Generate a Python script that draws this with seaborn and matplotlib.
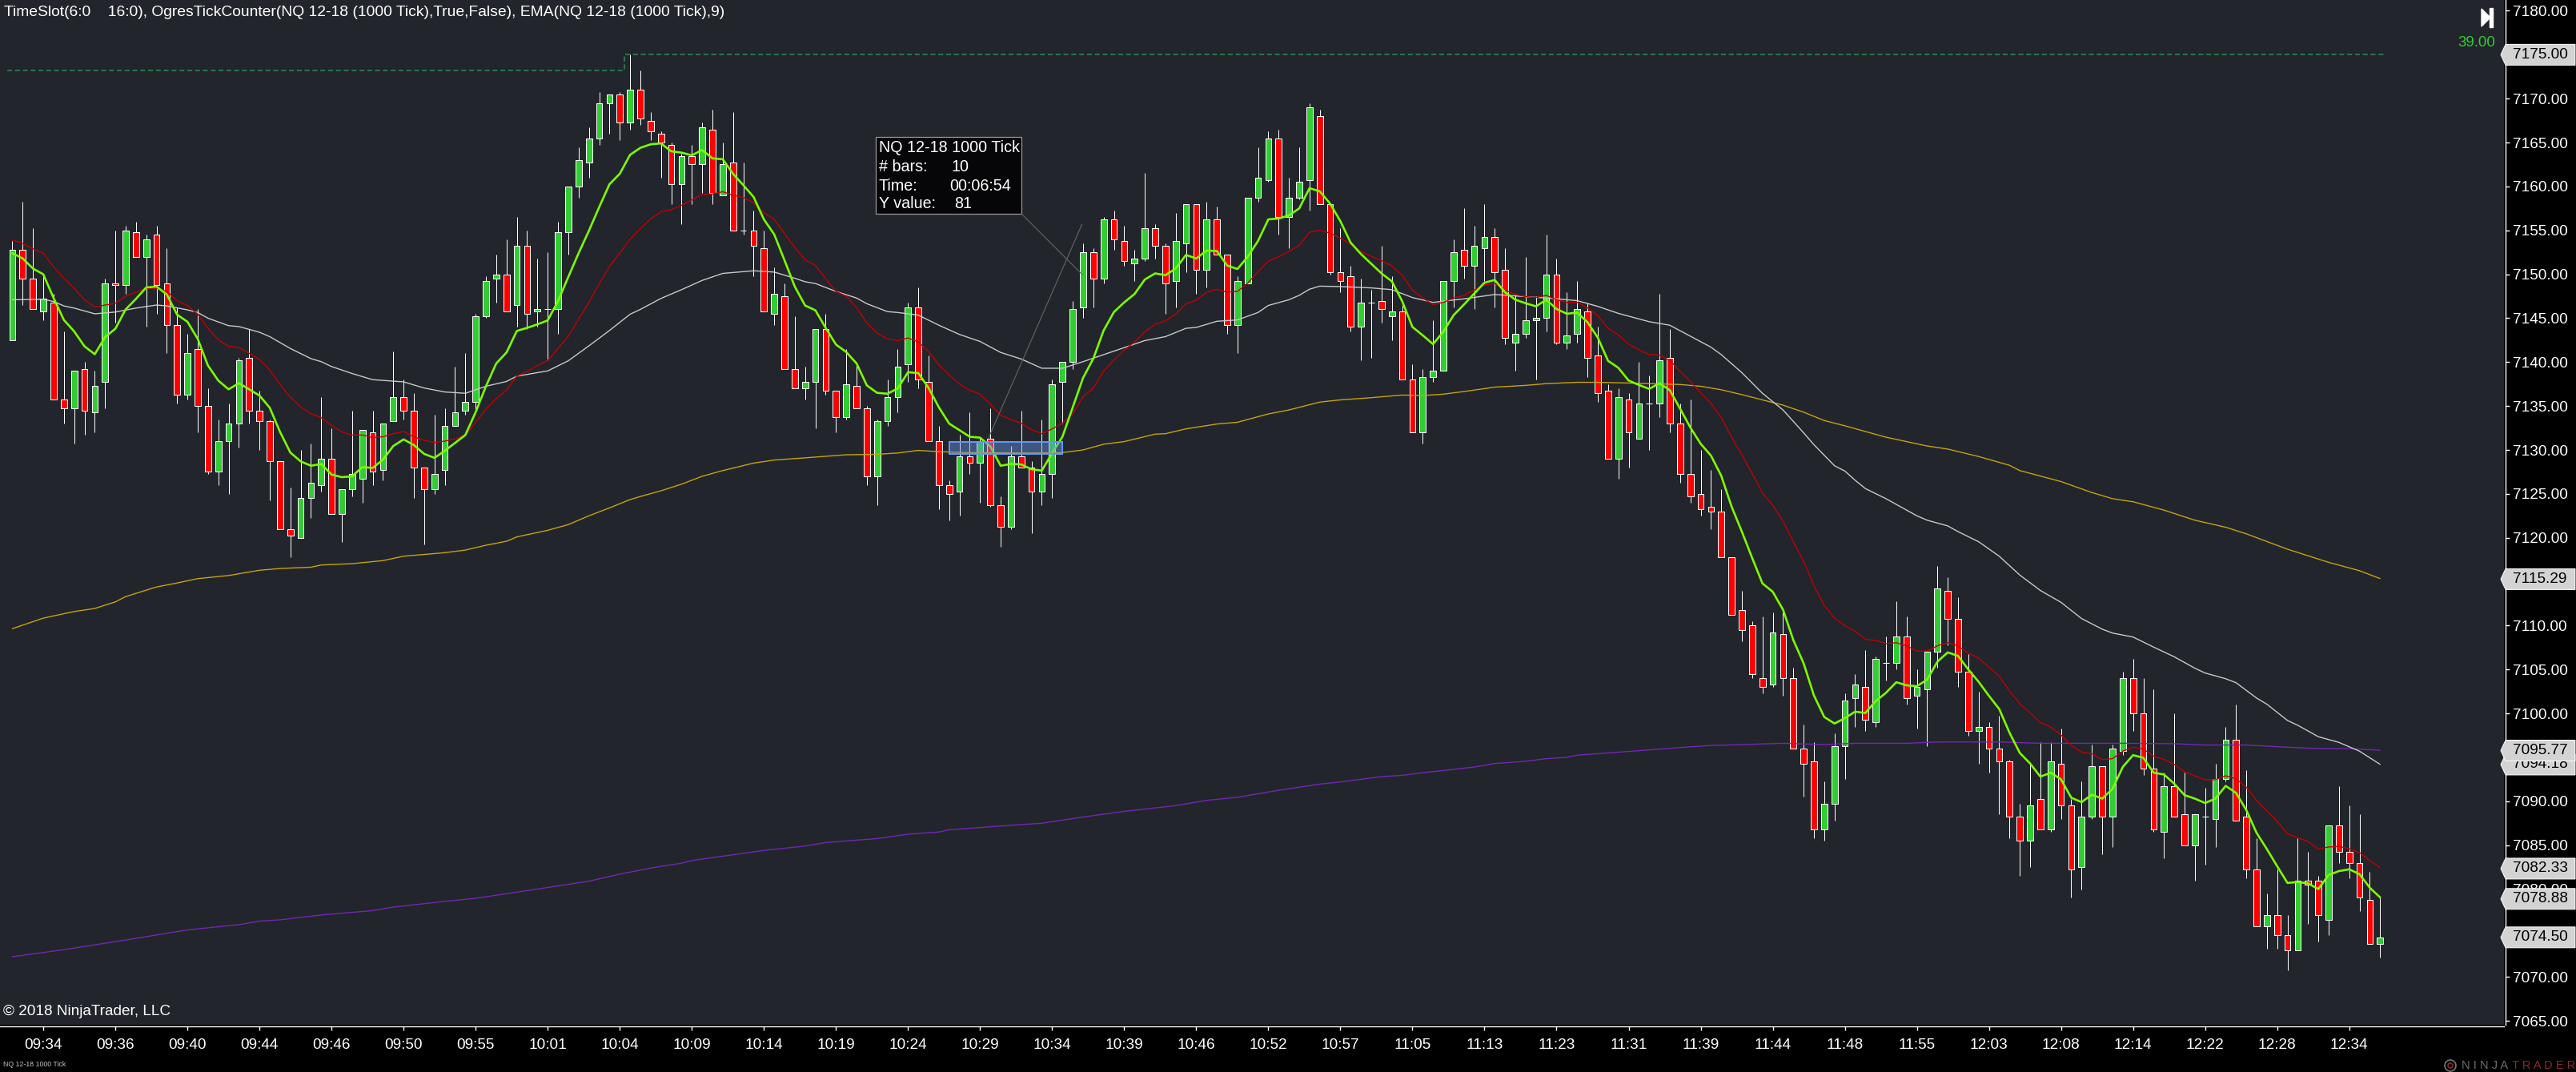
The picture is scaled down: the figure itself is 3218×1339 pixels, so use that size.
import numpy as np
import pandas as pd
import matplotlib
matplotlib.use("Agg")
import matplotlib.pyplot as plt
import matplotlib.patches as mpatches
import matplotlib.transforms as mtrans
import seaborn as sns

# candles, one entry per 1000 tick bar
bar_open = [
    7142.5, 7152.75, 7149.5, 7145.75, 7146.75, 7135.75, 7134.75, 7139.25, 7134.25, 7137.75,
    7149, 7148.75, 7154.75, 7152, 7154.5, 7149, 7144.25, 7136.25, 7141.5, 7135,
    7127.5, 7131, 7133, 7140.5, 7134.5, 7133.25, 7128.75, 7121, 7120, 7124.5,
    7126, 7129, 7122.75, 7125.5, 7126.75, 7132, 7127.75, 7133.25, 7136, 7134.5,
    7128, 7125.5, 7127.75, 7132.75, 7134.5, 7135.5, 7145.25, 7149.5, 7150, 7146.5,
    7153.25, 7145.75, 7146, 7146, 7154.75, 7160, 7162.75, 7165.5, 7169.5, 7170.5,
    7167.25, 7171, 7167.5, 7166, 7164.75, 7160.25, 7163.5, 7162.5, 7166.5, 7159,
    7162.75, 7155, 7155, 7153, 7145.5, 7147.5, 7139.25, 7137, 7137.75, 7143.75,
    7136.75, 7133.75, 7137.25, 7134.75, 7127, 7133.25, 7136, 7139.75, 7146.25, 7137.75,
    7131, 7126, 7125.25, 7129.25, 7128.5, 7131.25, 7123.75, 7121.25, 7129.25, 7128,
    7125.25, 7127.25, 7137.75, 7140, 7146.25, 7152.5, 7149.5, 7156.25, 7153.75, 7151.25,
    7151.75, 7155.25, 7153.25, 7149.25, 7153.5, 7158, 7150.5, 7156.25, 7152.25, 7144.25,
    7149, 7158.75, 7160.75, 7165.5, 7156.5, 7158.75, 7160.75, 7168, 7158, 7150.25,
    7149.75, 7144, 7146.75, 7147, 7145.25, 7145.75, 7138, 7132, 7138.25, 7139,
    7149.25, 7152.75, 7151, 7153, 7154.25, 7150.5, 7142.25, 7143.25, 7144.75, 7145,
    7150, 7142.25, 7143.25, 7145.75, 7140.75, 7136.75, 7129, 7135.75, 7131.25, 7135.25,
    7135.25, 7140.5, 7133, 7127.25, 7125, 7123.5, 7123, 7117.75, 7111.75, 7110,
    7104, 7103.25, 7109, 7104, 7096, 7094.5, 7086.75, 7089.75, 7096.25, 7101.75,
    7103, 7099, 7105.75, 7105.75, 7108.75, 7102, 7102.75, 7107, 7114, 7110.75,
    7104.75, 7098, 7098.5, 7096, 7094.5, 7088.25, 7085.5, 7090.25, 7086.75, 7094.25,
    7089.5, 7082.5, 7088.25, 7094, 7088.25, 7095.75, 7104, 7100, 7093.75, 7086.5,
    7091.75, 7088.5, 7085, 7088.25, 7088, 7092.5, 7097, 7088.25, 7082.25, 7075.75,
    7077, 7074.75, 7073, 7081, 7081, 7076.5, 7087.25, 7084.25, 7083, 7078.75,
    7073.75,
]
bar_high = [
    7153.75, 7158.25, 7155.25, 7150, 7147.75, 7143.5, 7139, 7140, 7139, 7149.5,
    7155, 7155.5, 7156, 7154.5, 7155.5, 7153, 7146.25, 7143.25, 7146, 7137,
    7133.5, 7135.25, 7140.5, 7143.75, 7136.75, 7133.5, 7128.75, 7125.75, 7130, 7130.75,
    7136, 7132.5, 7125.5, 7134.5, 7132.25, 7134.5, 7133, 7141.25, 7138, 7136.5,
    7128, 7134, 7134.75, 7139.5, 7141, 7145.5, 7149.75, 7152.25, 7154, 7156.5,
    7155, 7151.75, 7152.5, 7156, 7160, 7164.5, 7166.75, 7170.75, 7170.5, 7170.75,
    7175, 7173.25, 7168.5, 7166.25, 7165, 7163.75, 7164.75, 7167.25, 7168.75, 7165,
    7168.5, 7162.75, 7157.25, 7155, 7150.75, 7149, 7145.25, 7139.5, 7143.75, 7145.5,
    7136.75, 7141.5, 7139.75, 7135, 7133.5, 7138, 7141.5, 7146.75, 7148.5, 7140.75,
    7132.75, 7126.5, 7131.75, 7134.25, 7131.5, 7134.75, 7124.75, 7130.5, 7134.5, 7128.75,
    7133.5, 7138, 7140, 7147, 7153.5, 7153, 7156.5, 7157.25, 7155.5, 7152.75,
    7161.5, 7155.75, 7153.5, 7157, 7158, 7158, 7158.25, 7157.75, 7152.25, 7149.75,
    7158.75, 7164.5, 7166.25, 7166.5, 7161, 7164.5, 7169.5, 7168.75, 7158, 7155.25,
    7151, 7149.5, 7148.25, 7153.25, 7149.75, 7146.5, 7139.75, 7139.25, 7144.75, 7149.25,
    7154, 7157.5, 7155.5, 7158, 7155.25, 7153, 7147.75, 7152, 7147.5, 7154.5,
    7151.75, 7148, 7149.25, 7146.75, 7144, 7137.5, 7137, 7136.5, 7140, 7138.5,
    7147.75, 7143.75, 7135.25, 7135.75, 7130, 7127.75, 7125.5, 7117.75, 7114, 7110.5,
    7111, 7111.5, 7111.5, 7105.25, 7098.75, 7096.75, 7092.25, 7097.75, 7102.25, 7104.5,
    7107.25, 7106.5, 7108.75, 7112.75, 7111, 7105, 7107, 7116.75, 7115.5, 7113.25,
    7106.75, 7102.5, 7099, 7099.75, 7094.75, 7089.75, 7094.25, 7096.75, 7096.75, 7098.25,
    7090.25, 7092.25, 7096.5, 7094, 7096.5, 7104.75, 7106.25, 7104, 7102.75, 7093.25,
    7100, 7093.25, 7088.5, 7091.5, 7094.25, 7098.5, 7101, 7093.5, 7085.75, 7079.5,
    7082.25, 7077, 7085.75, 7084.25, 7081.5, 7087.25, 7091.75, 7089.5, 7088.5, 7082,
    7079,
]
bar_low = [
    7142.5, 7146.5, 7146, 7144.75, 7135.75, 7133, 7130.75, 7131.75, 7132, 7134.75,
    7144.5, 7147.75, 7152, 7144, 7145.5, 7141, 7135.25, 7135.75, 7132, 7127.25,
    7126, 7125, 7130.25, 7133, 7130, 7124.25, 7121, 7117.75, 7120, 7122.25,
    7125.25, 7122.75, 7119.5, 7124.75, 7124, 7126, 7126.5, 7133.25, 7133.5, 7124.5,
    7119.25, 7125, 7126, 7132.75, 7134, 7134.5, 7145, 7146.75, 7145.75, 7144,
    7143.75, 7144, 7140.25, 7143.25, 7152.25, 7158.75, 7161, 7164.75, 7166, 7165.25,
    7166.5, 7167, 7165.25, 7161, 7158, 7155.75, 7158, 7159.25, 7158, 7159,
    7155, 7154.5, 7149.75, 7145.75, 7144.25, 7139.25, 7137, 7135.75, 7132.5, 7136.25,
    7132, 7133.5, 7134.75, 7126, 7123.75, 7132.75, 7134.25, 7137.75, 7137, 7131,
    7123.25, 7122, 7122.5, 7127.25, 7124, 7123.5, 7119, 7121, 7128, 7120.5,
    7123.75, 7124.5, 7133, 7139.25, 7145, 7146.25, 7149, 7152.75, 7151, 7149.25,
    7151.5, 7151.75, 7145.5, 7146.25, 7150.25, 7147.75, 7148.5, 7152.25, 7143.25, 7141,
    7149, 7158.25, 7160.5, 7154.5, 7153, 7158.5, 7157.25, 7158, 7150, 7148,
    7143.5, 7140.25, 7140.5, 7144.5, 7142.5, 7138, 7132, 7130.75, 7137.75, 7139,
    7146.25, 7149.5, 7146, 7149.25, 7146.25, 7142, 7139, 7142.75, 7138, 7143.5,
    7142, 7141.5, 7142.25, 7138.25, 7135.5, 7129, 7126.75, 7128, 7131.25, 7130,
    7133.75, 7132, 7126.25, 7124, 7122.5, 7121, 7117.75, 7111.25, 7108.25, 7104,
    7102.25, 7103, 7102, 7096, 7090.5, 7085.75, 7085.5, 7087.75, 7092.5, 7098.5,
    7098, 7098.5, 7103.75, 7105, 7101, 7098.25, 7096.25, 7105.25, 7107.75, 7103,
    7097.5, 7094.25, 7093.25, 7088.5, 7085.75, 7081.5, 7082.5, 7086.75, 7086.5, 7088,
    7079, 7080, 7088, 7084, 7084.75, 7095.25, 7098, 7093, 7086.5, 7083.5,
    7088.25, 7085, 7081, 7082.75, 7084.75, 7092.25, 7087.75, 7081.25, 7075.75, 7073.25,
    7073.25, 7070.75, 7073, 7076, 7074, 7074.75, 7083, 7081.25, 7077.5, 7073.75,
    7072.25,
]
bar_close = [
    7152.75, 7149.5, 7146, 7147.25, 7135.75, 7134.75, 7139, 7134.5, 7137.25, 7149,
    7148.75, 7155, 7152, 7154, 7148.75, 7144.25, 7136.25, 7141, 7135, 7127.5,
    7131, 7133, 7140.25, 7134.5, 7133.25, 7128.75, 7121, 7120.25, 7124.5, 7126.25,
    7129, 7122.75, 7125.5, 7127.25, 7132.25, 7127.5, 7133, 7136, 7134.5, 7128,
    7125.5, 7127.25, 7132.75, 7134.25, 7135.5, 7145.25, 7149.25, 7150, 7145.75, 7153.25,
    7145.5, 7146, 7146, 7154.75, 7160, 7163, 7165.5, 7169.5, 7170.5, 7167.25,
    7171, 7167.75, 7166.25, 7165, 7160.25, 7163.5, 7162.5, 7166.75, 7159.25, 7162.5,
    7155, 7155, 7153.25, 7145.75, 7147.75, 7139.25, 7137, 7137.75, 7143.75, 7136.75,
    7133.75, 7137.5, 7134.75, 7127, 7133.25, 7136, 7139.5, 7146.25, 7138, 7131,
    7126, 7125, 7129.25, 7128.5, 7131, 7123.75, 7121.25, 7129.25, 7128, 7125.25,
    7127.25, 7137.5, 7140, 7146, 7152.5, 7149.5, 7156.25, 7154, 7151.5, 7151.75,
    7155.25, 7153.25, 7149, 7153.75, 7158, 7150.5, 7156.25, 7152.25, 7144.25, 7149.25,
    7158.75, 7161, 7165.5, 7156.5, 7158.75, 7160.5, 7169, 7158, 7150.25, 7149.25,
    7144, 7146.75, 7146.75, 7146, 7145.75, 7138, 7132, 7138.25, 7139, 7149.25,
    7152.5, 7151, 7153.25, 7154.25, 7150.25, 7142.75, 7143.25, 7144.75, 7145, 7150,
    7142.25, 7143, 7146, 7140.5, 7136.5, 7129, 7136, 7132, 7135.25, 7135.25,
    7140.25, 7133, 7127.25, 7124.75, 7123.25, 7123, 7117.75, 7111.25, 7109.5, 7104.5,
    7103, 7109.25, 7104, 7096, 7094.25, 7086.75, 7089.75, 7096.25, 7101.5, 7103.25,
    7099.25, 7106.25, 7105.75, 7108.75, 7101.75, 7103, 7107, 7114.25, 7110.75, 7104.75,
    7098, 7098.5, 7096, 7094.5, 7088.25, 7085.5, 7089.5, 7086.75, 7094.5, 7089.5,
    7082.25, 7088.25, 7094, 7088.25, 7096, 7104, 7100, 7093.75, 7086.75, 7091.75,
    7088.25, 7085, 7088.5, 7088.25, 7092.5, 7097, 7087.75, 7082.25, 7075.75, 7077,
    7074.75, 7073, 7081, 7080.5, 7077, 7087.25, 7084.25, 7083, 7079, 7073.75,
    7074.5,
]

# fast EMA(9), one value per bar
ema_fast = [
    7152.4, 7151.8, 7150.65, 7150.0, 7147.3, 7144.8, 7143.5, 7141.8, 7140.9, 7142.85,
    7143.8, 7146.0, 7147.2, 7148.5, 7148.6, 7147.7, 7145.4, 7144.6, 7142.65, 7139.6,
    7137.9, 7136.9, 7137.6, 7136.9, 7136.2, 7134.8, 7132.05, 7129.7, 7128.7, 7128.2,
    7128.4, 7127.2, 7126.9, 7127.0, 7128.05, 7127.95, 7128.9, 7130.45, 7131.2, 7130.55,
    7129.55, 7129.1, 7129.9, 7130.8, 7131.7, 7134.3, 7137.25, 7139.85, 7141.1, 7143.55,
    7143.9, 7144.3, 7144.75, 7146.95, 7149.7, 7152.4, 7154.95, 7157.65, 7160.25, 7161.45,
    7163.6, 7164.4, 7164.8, 7164.9, 7164.0, 7163.85, 7163.55, 7164.15, 7163.2, 7163.1,
    7161.45, 7160.15, 7158.8, 7156.25, 7154.55, 7151.6, 7148.6, 7146.45, 7145.9, 7143.9,
    7142.0, 7141.15, 7139.85, 7137.35, 7136.5, 7136.4, 7137.0, 7138.85, 7138.75, 7137.05,
    7134.85, 7133.0, 7132.25, 7131.5, 7131.4, 7130.4, 7128.2, 7128.4, 7128.35, 7127.8,
    7127.65, 7129.65, 7131.5, 7134.85, 7138.2, 7140.4, 7143.6, 7145.7, 7146.8, 7147.75,
    7149.4, 7150.1, 7149.9, 7150.65, 7152.2, 7151.8, 7152.7, 7152.65, 7151.0, 7150.6,
    7152.0, 7153.8, 7156.25, 7156.35, 7156.7, 7157.5, 7159.8, 7159.45, 7158.05, 7156.05,
    7153.6, 7152.3, 7151.2, 7150.1, 7149.2, 7146.95, 7144.0, 7143.05, 7142.05, 7143.45,
    7145.35, 7146.55, 7147.8, 7149.05, 7149.35, 7147.95, 7147.1, 7146.7, 7146.35, 7147.1,
    7146.05, 7145.5, 7145.65, 7144.55, 7142.8, 7140.15, 7139.35, 7137.9, 7137.4, 7136.95,
    7137.6, 7136.8, 7134.7, 7132.55, 7130.7, 7129.35, 7127.05, 7123.55, 7120.7, 7117.7,
    7114.8, 7113.85, 7111.8, 7108.35, 7105.7, 7102.05, 7099.6, 7098.85, 7099.45, 7100.2,
    7100.05, 7101.4, 7102.35, 7103.55, 7103.2, 7103.1, 7103.85, 7105.9, 7106.95, 7106.55,
    7105.0, 7103.6, 7102.0, 7100.5, 7097.8, 7095.5, 7094.3, 7092.8, 7093.25, 7092.5,
    7090.4, 7089.9, 7090.75, 7090.3, 7091.4, 7093.9, 7095.25, 7094.95, 7093.25, 7093.05,
    7092.0, 7090.7, 7090.3, 7089.8, 7090.3, 7091.75, 7090.95, 7089.0, 7086.4, 7084.55,
    7082.6, 7080.7, 7080.8, 7080.65, 7080.0, 7081.6, 7082.05, 7082.25, 7081.7, 7080.15,
    7079.05,
]
# slower red EMA, one value per bar
ema_red = [
    7153.9, 7153.5, 7152.9, 7152.4, 7150.85, 7149.55, 7148.4, 7147.1, 7146.25, 7146.5,
    7146.7, 7147.5, 7147.95, 7148.4, 7148.4, 7148.05, 7147.0, 7146.45, 7145.45, 7143.85,
    7142.55, 7141.8, 7141.65, 7141.0, 7140.3, 7139.1, 7137.45, 7136.0, 7134.9, 7134.15,
    7133.65, 7132.8, 7132.05, 7131.7, 7131.7, 7131.4, 7131.5, 7131.85, 7132.1, 7131.5,
    7131.1, 7130.85, 7131.0, 7131.25, 7131.7, 7133.15, 7134.65, 7135.85, 7136.8, 7138.4,
    7138.95, 7139.6, 7140.2, 7141.55, 7142.95, 7144.9, 7146.8, 7148.9, 7150.9, 7152.4,
    7154.0, 7155.2, 7156.3, 7157.1, 7157.35, 7157.85, 7158.45, 7159.1, 7159.15, 7159.4,
    7159.0, 7158.75, 7158.15, 7157.0, 7156.25, 7154.65, 7153.05, 7151.65, 7151.0, 7149.5,
    7148.05, 7147.5, 7146.2, 7144.45, 7143.3, 7142.65, 7142.45, 7142.75, 7142.3, 7141.2,
    7139.7, 7138.55, 7137.5, 7136.8, 7136.35, 7135.2, 7133.95, 7133.45, 7133.05, 7132.3,
    7131.85, 7132.4, 7133.05, 7134.1, 7136.05, 7137.05, 7138.95, 7140.25, 7141.35, 7142.3,
    7143.45, 7144.3, 7144.7, 7145.45, 7146.65, 7147.05, 7147.95, 7148.3, 7147.95, 7148.05,
    7149.0, 7150.3, 7151.5, 7152.0, 7152.6, 7153.3, 7154.8, 7155.0, 7154.7, 7154.1,
    7153.45, 7152.6, 7152.05, 7151.55, 7150.95, 7149.9, 7148.2, 7147.3, 7146.55, 7146.8,
    7147.3, 7147.6, 7148.2, 7148.8, 7148.95, 7148.2, 7147.7, 7147.45, 7147.35, 7147.6,
    7147.1, 7146.8, 7146.8, 7146.2, 7145.3, 7143.85, 7143.1, 7142.05, 7141.4, 7140.85,
    7140.8, 7140.2, 7138.95, 7137.8, 7136.5, 7135.3, 7133.7, 7131.45, 7129.45, 7127.3,
    7125.1, 7123.7, 7121.85, 7119.55, 7117.3, 7114.55, 7112.3, 7110.85, 7110.0, 7109.35,
    7108.45, 7108.3, 7107.95, 7108.05, 7107.7, 7107.1, 7107.1, 7107.7, 7108.05, 7107.7,
    7106.85, 7106.3, 7105.25, 7104.25, 7102.55, 7101.1, 7100.05, 7098.95, 7098.45, 7097.55,
    7096.35, 7095.6, 7095.4, 7094.75, 7094.85, 7095.7, 7096.15, 7095.95, 7095.15, 7094.75,
    7094.2, 7093.35, 7092.9, 7092.45, 7092.45, 7092.9, 7092.55, 7091.6, 7090.1, 7088.9,
    7087.7, 7086.3, 7085.85, 7085.4, 7084.55, 7084.8, 7084.85, 7084.6, 7084.15, 7083.25,
    7082.45,
]

# the slow averages were read at their visible bends
ema_white_bars = [
    0, 3, 4, 5, 6, 8, 10, 12, 14, 15, 17, 18, 19, 21, 22, 24, 25, 27, 29, 30, 31, 33, 35, 38,
    40, 42, 44, 46, 48, 49, 52, 54, 56, 58, 60, 61, 63, 65, 67, 69, 72, 74, 76, 77, 78, 80,
    82, 83, 85, 86, 88, 90, 92, 94, 96, 98, 100, 102, 104, 106, 108, 110, 112, 114, 115, 117,
    119, 121, 122, 124, 125, 126, 127, 129, 132, 134, 136, 138, 141, 144, 147, 149, 152, 154,
    156, 159, 161, 163, 165, 166, 168, 170, 172, 174, 175, 177, 178, 179, 180, 182, 183, 185,
    186, 188, 189, 191, 193, 195, 197, 199, 201, 203, 204, 206, 208, 210, 212, 213, 215, 216,
    218, 219, 221, 222, 224, 226, 228, 230,
]
ema_white = [
    7147.1, 7147.15, 7146.9, 7146.4, 7146.15, 7145.5, 7145.7, 7146.15, 7146.5, 7146.4, 7145.95,
    7145.65, 7145.0, 7144.15, 7144.05, 7143.4, 7142.9, 7141.55, 7140.4, 7140.05, 7139.5, 7138.7,
    7138.0, 7137.75, 7137.05, 7136.6, 7136.45, 7137.25, 7137.8, 7138.4, 7139.0, 7140.15, 7141.85,
    7143.6, 7145.45, 7146.0, 7147.25, 7148.25, 7149.3, 7150.1, 7150.4, 7150.25, 7149.55, 7149.15,
    7148.95, 7148.05, 7147.3, 7146.65, 7145.75, 7145.65, 7145.35, 7144.2, 7143.15, 7142.35, 7141.1,
    7140.35, 7139.3, 7139.3, 7140.05, 7140.85, 7141.65, 7142.45, 7142.9, 7143.85, 7143.95, 7144.65,
    7144.8, 7145.65, 7146.45, 7147.1, 7147.6, 7148.3, 7148.65, 7148.6, 7148.45, 7148.25, 7147.35,
    7146.8, 7147.2, 7147.7, 7147.45, 7147.3, 7147.0, 7146.35, 7145.55, 7144.6, 7144.2, 7142.95,
    7141.7, 7140.85, 7138.8, 7136.45, 7134.55, 7131.95, 7130.6, 7128.2, 7127.6, 7126.55, 7125.6,
    7124.45, 7123.8, 7122.5, 7122.0, 7121.35, 7120.7, 7119.55, 7117.9, 7115.75, 7114.0, 7112.65,
    7110.8, 7109.6, 7109.15, 7108.7, 7107.55, 7106.45, 7105.15, 7104.6, 7103.95, 7103.5, 7101.75,
    7101.05, 7099.2, 7098.65, 7097.35, 7096.7, 7095.7, 7094.2,
]
ema_gold_bars = [
    0, 3, 6, 8, 10, 11, 14, 16, 18, 21, 24, 26, 29, 30, 33, 36, 38, 42, 44, 46, 48, 49, 52, 54,
    56, 58, 60, 61, 63, 65, 67, 69, 72, 74, 77, 81, 84, 86, 88, 90, 93, 99, 102, 104, 106, 108,
    111, 112, 114, 117, 119, 122, 124, 127, 129, 132, 135, 137, 139, 141, 144, 147, 149, 152,
    154, 156, 159, 162, 164, 166, 168, 170, 172, 174, 176, 178, 180, 182, 186, 188, 191, 194,
    195, 199, 202, 204, 206, 209, 212, 215, 217, 221, 225, 228, 230,
]
ema_gold = [
    7109.65, 7110.85, 7111.6, 7111.95, 7112.7, 7113.3, 7114.4, 7114.85, 7115.35, 7115.7, 7116.3,
    7116.5, 7116.65, 7116.9, 7117.05, 7117.4, 7117.9, 7118.3, 7118.6, 7119.15, 7119.6, 7120.1,
    7120.85, 7121.5, 7122.5, 7123.4, 7124.35, 7124.7, 7125.35, 7126.1, 7127.0, 7127.65, 7128.5,
    7128.85, 7129.1, 7129.45, 7129.5, 7129.65, 7129.95, 7129.8, 7129.7, 7129.65, 7129.7, 7130.0,
    7130.65, 7130.95, 7131.8, 7131.85, 7132.4, 7132.95, 7133.15, 7134.1, 7134.55, 7135.45, 7135.7,
    7135.95, 7136.25, 7136.2, 7136.35, 7136.65, 7137.15, 7137.35, 7137.55, 7137.7, 7137.7, 7137.65,
    7137.55, 7137.45, 7137.25, 7136.85, 7136.3, 7135.7, 7135.1, 7134.3, 7133.35, 7132.75, 7132.1,
    7131.45, 7130.45, 7130.1, 7129.25, 7128.25, 7127.65, 7126.4, 7125.15, 7124.45, 7124.1, 7123.15,
    7122.0, 7121.2, 7120.45, 7118.7, 7117.2, 7116.25, 7115.35,
]
ema_purple_bars = [
    0, 5, 11, 17, 22, 24, 26, 30, 35, 37, 42, 45, 51, 56, 59, 62, 65, 66, 73, 77, 79, 84, 87, 90,
    91, 95, 100, 104, 108, 113, 116, 119, 123, 127, 129, 133, 135, 137, 139, 142, 144, 147, 149,
    151, 152, 155, 159, 163, 165, 168, 172, 176, 179, 184, 187, 193, 197, 205, 210, 213, 217, 221,
    224, 227, 230,
]
ema_purple = [
    7072.3, 7073.1, 7074.2, 7075.35, 7075.95, 7076.35, 7076.5, 7077.05, 7077.55, 7077.95, 7078.6,
    7078.95, 7080.0, 7080.9, 7081.7, 7082.4, 7082.95, 7083.25, 7084.4, 7084.9, 7085.3, 7085.75,
    7086.25, 7086.5, 7086.75, 7087.1, 7087.5, 7088.2, 7088.85, 7089.5, 7090.1, 7090.45, 7091.25,
    7091.95, 7092.2, 7092.8, 7092.95, 7093.25, 7093.5, 7093.9, 7094.3, 7094.55, 7094.85, 7095.0,
    7095.25, 7095.5, 7095.85, 7096.2, 7096.35, 7096.45, 7096.6, 7096.45, 7096.6, 7096.6, 7096.75,
    7096.75, 7096.6, 7096.6, 7096.55, 7096.4, 7096.4, 7096.15, 7096.0, 7096.0, 7095.8,
]

time_labels = [
    "09:34", "09:36", "09:40", "09:44", "09:46", "09:50", "09:55", "10:01", "10:04", "10:09", "10:14",
    "10:19", "10:24", "10:29", "10:34", "10:39", "10:46", "10:52", "10:57", "11:05", "11:13", "11:23",
    "11:31", "11:39", "11:44", "11:48", "11:55", "12:03", "12:08", "12:14", "12:22", "12:28", "12:34",
]
price_ticks = list(range(7065, 7185, 5))
# these axis labels sit fully under a price marker
hidden_ticks = [7075, 7095, 7115, 7175]
# price markers on the right edge, later ones lie on top
tag_prices = [7175.00, 7115.29, 7094.18, 7095.77, 7082.33, 7078.88, 7074.50]

header = "TimeSlot(6:0    16:0), OgresTickCounter(NQ 12-18 (1000 Tick),True,False), EMA(NQ 12-18 (1000 Tick),9)"
series_name = "NQ 12-18 1000 Tick"

PANEL = "#22252b"
FONT = "Liberation Sans"
W, H = 3218, 1339
PLOT_W, PLOT_H = 3128, 1280

sns.set_theme(style="dark", rc={"axes.facecolor": PANEL, "figure.facecolor": "black"})
plt.rcParams["font.family"] = [FONT, "DejaVu Sans"]

fig = plt.figure(figsize=(W / 100, H / 100), dpi=100)
ax = fig.add_axes([0, (H - PLOT_H) / H, PLOT_W / W, PLOT_H / H])
ax.set_xlim(-1.205, 242.03)
ax.set_ylim(7064.55, 7181.23)
ax.grid(False)

# pixel coordinates with the origin top left, for the chart furniture
px = mtrans.Affine2D().scale(1, -1).translate(0, H)
px_y_price = mtrans.blended_transform_factory(px, ax.transData)

df = pd.DataFrame(
    {"bar": np.arange(len(bar_open)), "open": bar_open, "high": bar_high,
     "low": bar_low, "close": bar_close, "fast": ema_fast, "red": ema_red}
)
up = df["close"] >= df["open"]
colors = np.where(up, "#32cd32", "#ff0000")

ax.vlines(df["bar"], df["low"], df["high"], color="white", linewidth=0.72, zorder=2)
ax.bar(
    df["bar"], (df["close"] - df["open"]).abs(), bottom=df[["open", "close"]].min(axis=1),
    width=0.6, color=colors, edgecolor="white", linewidth=0.72, zorder=3,
)

# dashed tick counter level
ax.plot([-0.5, 59.43, 59.43, 230.5], [7173.2, 7173.2, 7175, 7175], color="#2e8b57",
        linewidth=1.1, dashes=(4, 2.4), zorder=4)


def draw_ema(x, y, color, width):
    sns.lineplot(x=x, y=y, color=color, linewidth=width, estimator=None, sort=False,
                 legend=False, ax=ax, zorder=5)


draw_ema(ema_purple_bars, ema_purple, "#7426b5", 1.0)
draw_ema(ema_gold_bars, ema_gold, "#c8a20f", 1.0)
draw_ema(ema_white_bars, ema_white, "#c9c9c9", 1.0)
draw_ema(df["bar"], df["red"], "#c40000", 1.0)
draw_ema(df["bar"], df["fast"], "#7cfc00", 1.9)

# time span drawing
ax.add_patch(mpatches.Rectangle((91, 7129.55), 11, 1.35, facecolor=(0.392, 0.584, 0.929, 0.44),
                                edgecolor="#6495ed", linewidth=1.5, zorder=6))
ax.plot([94.8, 103.9], [7131.3, 7155.7], color="#666666", linewidth=0.8, zorder=6)
fig.add_artist(plt.Line2D([1276, 1352], [267, 343], transform=px, color="#666666", linewidth=0.8))
fig.add_artist(mpatches.Rectangle((1094, 171), 182, 96, transform=px, facecolor="#060608",
                                  edgecolor="#9a9a9a", linewidth=0.9))
for y_pos, left, right, x_right in [
    (185, series_name, "", 0),
    (208, "# bars:", "10", 1188),
    (232, "Time:", "00:06:54", 1186),
    (255, "Y value:", "81", 1192),
]:
    fig.text(1098, y_pos, left, transform=px, color="white", fontsize=14.2, va="center", ha="left")
    if right:
        fig.text(x_right, y_pos, right, transform=px, color="white", fontsize=14.2, va="center", ha="left")

# axes
for side in ["top", "left"]:
    ax.spines[side].set_visible(False)
for side in ["bottom", "right"]:
    ax.spines[side].set_visible(True)
    ax.spines[side].set_color("white")
    ax.spines[side].set_linewidth(1.0)
    ax.spines[side].set_position(("outward", 1.4))
ax.yaxis.tick_right()
ax.set_yticks(price_ticks)
ax.set_yticklabels(["" if p in hidden_ticks else f"{p:.2f}" for p in price_ticks])
ax.set_xticks(3 + 7 * np.arange(len(time_labels)))
ax.set_xticklabels(time_labels)
ax.tick_params(axis="y", colors="white", labelsize=13.7, length=3.8, width=1.0, pad=2.8, right=True)
ax.tick_params(axis="x", colors="white", labelsize=13.7, length=3.8, width=1.0, pad=7, bottom=True)
ax.set_xlabel("")
ax.set_ylabel("")

# price markers
half = 13 / 10.97
for i, price in enumerate(tag_prices):
    shape = [(3124, price), (3130, price + half), (3217, price + half), (3217, price - half), (3130, price - half)]
    tag = mpatches.Polygon(shape, closed=True, transform=px_y_price, facecolor="#d3d3d3",
                           edgecolor="white", linewidth=0.7, clip_on=False, zorder=20 + 2 * i)
    ax.add_patch(tag)
    ax.text(3139, price, f"{price:.2f}", transform=px_y_price, color="black", fontsize=13.7,
            va="center", ha="left", clip_on=False, zorder=21 + 2 * i)

# header and corner texts
fig.text(5, 16, header, transform=px, color="white", fontsize=13.9, va="center", ha="left")
fig.text(4, 1264, "\u00a9 2018 NinjaTrader, LLC", transform=px, color="white", fontsize=13.7, va="center", ha="left")
fig.text(4, 1330, series_name, transform=px, color="#c4c4c4", fontsize=6.35, va="center", ha="left")
fig.text(3117, 53, "39.00", transform=px, color="#32cd32", fontsize=13.4, va="center", ha="right")

# scroll to end icon
fig.add_artist(mpatches.Polygon([(3100, 11), (3100, 33), (3111, 22)], closed=True, transform=px, facecolor="white"))
fig.add_artist(mpatches.Rectangle((3110, 10), 4, 24, transform=px, facecolor="white"))

# logo
fig.add_artist(mpatches.Circle((3061, 1331), 7, transform=px, facecolor="none", edgecolor="#777777", linewidth=1.2))
fig.add_artist(mpatches.Circle((3061, 1331), 3, transform=px, facecolor="none", edgecolor="#8b2a2a", linewidth=1.2))
fig.text(3075, 1331, "N I N J A", transform=px, fontsize=10.5, va="center", ha="left", color="#6e6e6e")
fig.text(3138, 1331, "T R A D E R", transform=px, fontsize=10.5, va="center", ha="left", color="#8b2a2a")

fig.savefig("out.png", dpi=100, facecolor="black")
